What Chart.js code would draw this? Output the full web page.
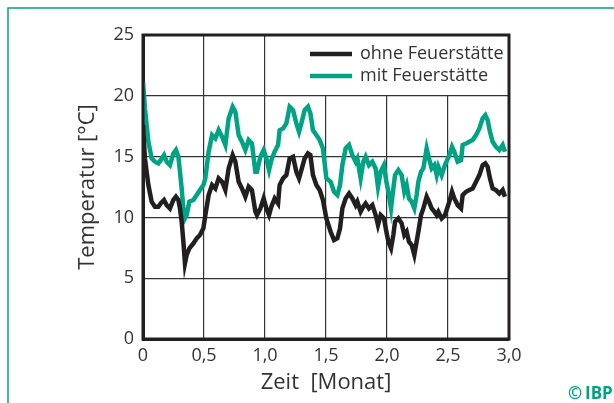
<!DOCTYPE html>
<html>
<head>
<meta charset="utf-8">
<title>Temperatur</title>
<script src="https://cdn.jsdelivr.net/npm/chart.js@4.4.1/dist/chart.umd.min.js"></script>
<style>
  body { margin: 0; background: #fff; }
  canvas { display: block; }
</style>
</head>
<body>
<canvas id="chart" width="614" height="403"></canvas>
<script>
// Zeit in Monaten
var zeit = [
  0.000,0.016,0.044,0.071,0.098,0.126,0.145,0.172,0.194,0.221,0.249,0.270,0.290,0.303,0.317,0.331,0.344,0.358,0.380,0.413,0.440,0.467,0.495,
  0.511,0.538,0.566,0.593,0.620,0.648,0.675,0.702,0.735,0.757,0.784,0.811,0.839,0.866,0.893,0.921,0.934,0.962,0.989,
  1.011,1.033,1.052,1.079,1.107,1.120,1.148,1.175,1.202,1.230,1.257,1.279,1.298,1.325,1.352,1.372,1.393,1.421,1.448,1.475,1.503,
  1.538,1.566,1.593,1.615,1.634,1.661,1.689,1.716,1.743,1.757,1.784,1.806,1.825,1.852,1.880,1.907,1.926,1.948,1.975,1.995,
  2.011,2.033,2.052,2.066,2.093,2.120,2.142,2.161,2.180,2.202,2.224,2.243,2.257,2.279,2.298,2.325,2.344,2.366,2.388,2.407,2.421,2.448,2.475,
  2.511,2.533,2.552,2.579,2.607,2.620,2.648,2.675,2.702,2.730,2.757,2.784,2.806,2.825,2.844,2.866,2.893,2.921,2.948,2.967
];

// Temperatur ohne Feuerstaette [°C]
var ohne = [
  17.59,14.85,12.66,11.29,10.88,10.88,11.15,11.43,11.01,10.74,11.43,11.70,11.43,10.74,9.65,8.00,6.22,6.91,7.45,7.86,8.28,8.55,9.10,
  10.19,11.84,12.66,12.38,13.21,12.93,12.25,14.03,15.12,14.58,12.93,12.38,11.70,12.52,12.25,10.47,10.19,10.74,11.56,
  10.74,10.19,10.88,11.56,11.15,12.66,13.21,13.48,14.85,14.99,13.75,13.21,13.89,14.85,15.26,15.12,13.48,12.66,12.25,11.43,9.92,
  8.82,8.14,8.28,9.10,10.74,11.56,11.97,11.56,11.01,11.29,10.47,10.88,11.15,10.74,11.01,10.19,9.37,10.19,9.92,8.82,
  8.00,7.45,8.55,9.65,9.92,9.51,8.55,8.82,8.00,7.73,6.91,8.00,8.82,10.19,10.74,11.70,11.29,10.74,10.47,10.19,10.47,9.92,10.19,
  11.29,12.11,11.56,11.01,10.74,11.84,12.11,12.25,12.38,12.93,13.48,14.30,14.44,14.16,13.21,12.38,12.25,11.97,12.25,11.70
];

// Temperatur mit Feuerstaette [°C]
var mit = [
  21.15,18.96,16.22,14.85,14.58,14.44,14.71,15.12,14.58,14.30,15.26,15.54,14.99,13.75,12.38,10.74,9.92,10.19,11.29,11.43,11.84,12.25,12.66,
  13.21,15.40,16.77,16.49,17.18,16.63,15.95,18.14,19.10,18.69,16.77,16.22,15.54,16.36,16.08,13.75,13.75,14.99,15.54,
  14.85,13.89,14.71,15.40,15.95,17.18,17.32,17.73,19.10,18.82,17.73,17.04,17.73,18.82,19.10,18.55,17.18,16.77,16.36,15.67,13.21,
  12.93,12.11,11.84,12.66,14.30,15.67,15.95,15.12,14.58,14.85,13.21,14.58,14.99,14.30,14.58,14.03,12.52,13.75,14.30,12.93,
  12.11,10.74,12.38,13.48,13.89,13.48,12.11,12.66,11.56,11.29,10.74,11.84,12.93,13.75,14.03,15.67,14.85,14.03,14.30,13.48,14.16,13.48,14.30,
  15.12,15.81,15.40,14.58,14.71,15.95,16.08,16.22,16.36,16.77,17.32,18.14,18.41,18.00,17.04,16.22,15.81,15.54,15.95,15.40
];

var serien = ["ohne Feuerstätte", "mit Feuerstätte"];

var schwarz = "#231f20";
var gruen = "#00a383";
var schrift = "Open Sans";

function punkte(werte) {
  return zeit.map(function (t, i) { return { x: t, y: werte[i] }; });
}

function komma(v) {
  if (v === 0) return "0";
  return v.toFixed(1).replace(".", ",");
}

// Rahmen, Legende im Diagramm und Logo
var extras = {
  id: "extras",
  afterDraw: function (chart) {
    var ctx = chart.ctx;
    var a = chart.chartArea;
    ctx.save();

    // Legende
    ctx.fillStyle = "#fff";
    ctx.fillRect(a.right - 205, a.top + 1, 204, 59);
    var farben = [schwarz, gruen];
    ctx.font = "18px '" + schrift + "'";
    ctx.textBaseline = "middle";
    for (var i = 0; i < serien.length; i++) {
      var y = a.top + 19 + i * 22;
      ctx.strokeStyle = farben[i];
      ctx.lineWidth = 4.5;
      ctx.beginPath();
      ctx.moveTo(a.right - 199, y);
      ctx.lineTo(a.right - 157, y);
      ctx.stroke();
      ctx.fillStyle = "#333";
      ctx.fillText(serien[i], a.right - 149, y);
    }

    // Diagrammrahmen
    ctx.strokeStyle = schwarz;
    ctx.lineWidth = 3;
    ctx.strokeRect(a.left, a.top, a.right - a.left, a.bottom - a.top);

    // gruener Bildrahmen (oben und links)
    ctx.strokeStyle = gruen;
    ctx.lineWidth = 1.5;
    ctx.beginPath();
    ctx.moveTo(8, 403);
    ctx.lineTo(8, 8);
    ctx.lineTo(614, 8);
    ctx.stroke();

    // Logo
    ctx.fillStyle = gruen;
    ctx.textBaseline = "alphabetic";
    ctx.font = "bold 17px '" + schrift + "'";
    ctx.fillText("©", 568, 399);
    ctx.font = "bold 17px '" + schrift + "'";
    ctx.fillText("IBP", 585, 399);
    ctx.restore();
  }
};

var achsenSchrift = { family: schrift, size: 18 };
var titelSchrift = { family: schrift, size: 22 };

new Chart(document.getElementById("chart"), {
  type: "line",
  data: {
    datasets: [
      { label: serien[0], data: punkte(ohne), borderColor: schwarz, borderWidth: 4.5, pointRadius: 0, tension: 0 },
      { label: serien[1], data: punkte(mit), borderColor: gruen, borderWidth: 4.5, pointRadius: 0, tension: 0 }
    ]
  },
  options: {
    responsive: false,
    animation: false,
    events: [],
    layout: { padding: { left: 0, right: 105, top: 35, bottom: 0 } },
    plugins: { legend: { display: false }, tooltip: { enabled: false } },
    scales: {
      x: {
        type: "linear",
        min: 0,
        max: 3,
        ticks: { stepSize: 0.5, padding: 6, color: "#333", font: achsenSchrift, maxRotation: 0, callback: komma },
        grid: { color: "#333", lineWidth: 1.2, drawTicks: false },
        border: { display: true, color: schwarz, width: 3 },
        title: { display: true, text: "Zeit  [Monat]", color: "#333", font: titelSchrift, padding: { top: 0, bottom: 7 } },
        afterFit: function (s) { s.height = 64; }
      },
      y: {
        min: 0,
        max: 25,
        ticks: { stepSize: 5, padding: 9, color: "#333", font: achsenSchrift },
        grid: { color: "#333", lineWidth: 1.2, drawTicks: false },
        border: { display: true, color: schwarz, width: 3 },
        title: { display: true, text: "Temperatur [°C]", color: "#333", font: titelSchrift, padding: { top: 75, bottom: 0 } },
        afterFit: function (s) { s.width = 143; }
      }
    }
  },
  plugins: [extras]
});
</script>
</body>
</html>
